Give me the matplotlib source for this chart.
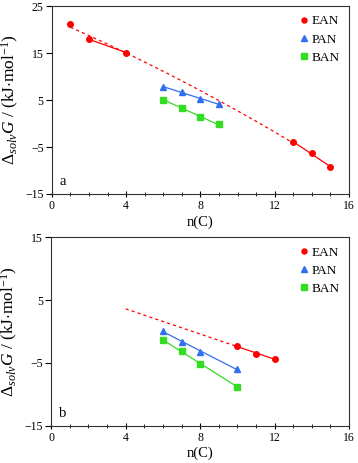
import numpy as np
import matplotlib
matplotlib.use("Agg")
import matplotlib.pyplot as plt
from matplotlib.ticker import MultipleLocator

plt.rcParams['font.family'] = ['Liberation Serif', 'DejaVu Serif']
plt.rcParams['mathtext.fontset'] = 'custom'
plt.rcParams['mathtext.rm'] = 'Liberation Serif'
plt.rcParams['mathtext.it'] = 'Liberation Serif:italic'

# Panel a data
a_ean_x = [1, 2, 4, 13, 14, 15]
a_ean_y = [21.1, 17.9, 15.1, -4.0, -6.3, -9.3]
a_pan_x = [6, 7, 8, 9]
a_pan_y = [7.8, 6.7, 5.2, 4.1]
a_ban_x = [6, 7, 8, 9]
a_ban_y = [5.1, 3.3, 1.3, -0.2]

# Panel b data
b_ean_x = [10, 11, 12]
b_ean_y = [-2.3, -3.6, -4.3]
b_pan_x = [6, 7, 8, 10]
b_pan_y = [0.1, -1.6, -3.2, -6.0]
b_ban_x = [6, 7, 8, 10]
b_ban_y = [-1.4, -3.1, -5.1, -8.8]

RED = '#ff0000'
BLUE = '#2f6ff0'
GREEN = '#33dd22'

fig = plt.figure(figsize=(3.58, 4.63), dpi=100)
ax1 = fig.add_axes([0.145, 0.581, 0.83, 0.406])
ax2 = fig.add_axes([0.143, 0.080, 0.832, 0.408])


def fitline(ax, x, y, x0, x1, color, ls='-', deg=1):
    c = np.polyfit(x, y, deg)
    xx = np.linspace(x0, x1, 50)
    ax.plot(xx, np.polyval(c, xx), color=color, lw=0.9, ls=ls, zorder=2)


def style(ax, ylim, yticks, letter):
    ax.set_xlim(0, 16)
    ax.set_ylim(*ylim)
    ax.set_yticks(yticks)
    ax.set_xticks([0, 4, 8, 12, 16])
    ax.xaxis.set_minor_locator(MultipleLocator(1))
    ax.tick_params(axis='x', which='major', direction='inout', length=5, width=0.8, labelsize=8.5, pad=2)
    ax.tick_params(axis='x', which='minor', direction='inout', length=3, width=0.6)
    ax.tick_params(axis='y', which='major', direction='out', length=4, width=0.8, labelsize=8.5, pad=2)
    for s in ax.spines.values():
        s.set_color('#333333')
        s.set_linewidth(0.8)
    ax.set_xlabel('n(C)', fontsize=10.5, labelpad=2)
    ax.set_ylabel(r'$\Delta_{solv}\mathit{G}$ / (kJ$\cdot$mol$^{-1}$)', fontsize=12.5, labelpad=3)
    ax.text(0.025, 0.03, letter, transform=ax.transAxes, fontsize=10.5, ha='left', va='bottom')
    ax.legend(loc='upper right', frameon=False, fontsize=9.5, handlelength=0.6,
              handletextpad=0.3, borderaxespad=0.3, labelspacing=0.45, markerscale=0.9)


DASH = (0, (2.5, 2.5))

# Panel a
fitline(ax1, a_ean_x, a_ean_y, 1, 13, RED, ls=DASH, deg=2)
fitline(ax1, a_ean_x[1:3], a_ean_y[1:3], 2, 4, RED)
fitline(ax1, a_ean_x[3:], a_ean_y[3:], 13, 15, RED)
fitline(ax1, a_pan_x, a_pan_y, 6, 9, BLUE)
fitline(ax1, a_ban_x, a_ban_y, 6, 9, GREEN)
ax1.plot(a_ean_x, a_ean_y, 'o', color=RED, ms=4, ls='none', label='EAN', zorder=3)
ax1.plot(a_pan_x, a_pan_y, '^', color=BLUE, ms=4.5, ls='none', label='PAN', zorder=3)
ax1.plot(a_ban_x, a_ban_y, 's', color=GREEN, ms=4.5, ls='none', label='BAN', zorder=3)
style(ax1, (-15, 25), [-15, -5, 5, 15, 25], 'a')

# Panel b
fitline(ax2, b_ean_x, b_ean_y, 4, 10, RED, ls=DASH)
fitline(ax2, b_ean_x, b_ean_y, 10, 12, RED)
fitline(ax2, b_pan_x, b_pan_y, 6, 10, BLUE)
fitline(ax2, b_ban_x, b_ban_y, 6, 10, GREEN)
ax2.plot(b_ean_x, b_ean_y, 'o', color=RED, ms=4, ls='none', label='EAN', zorder=3)
ax2.plot(b_pan_x, b_pan_y, '^', color=BLUE, ms=4.5, ls='none', label='PAN', zorder=3)
ax2.plot(b_ban_x, b_ban_y, 's', color=GREEN, ms=4.5, ls='none', label='BAN', zorder=3)
style(ax2, (-15, 15), [-15, -5, 5, 15], 'b')

fig.savefig('out.png', dpi=100)
